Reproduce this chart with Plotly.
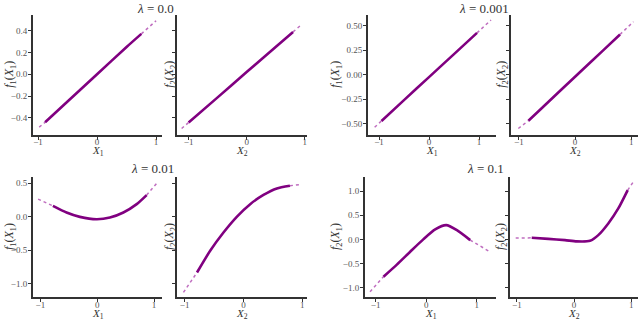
import plotly.graph_objects as go

# ---------------- data ----------------
titles = ["λ = 0.0", "λ = 0.001", "λ = 0.01", "λ = 0.1"]

x_tick_vals = [-1, 0, 1]
x_tick_text = ["−1", "0", "1"]
y_ticks_r1a = [-0.4, -0.2, 0.0, 0.2, 0.4]
y_ticks_r1b = [-0.5, -0.25, 0.0, 0.25, 0.5]
y_ticks_r2a = [-1.0, -0.5, 0.0, 0.5]
y_ticks_r2b = [-1.0, -0.5, 0.0, 0.5, 1.0]

# lambda = 0.0
p1_x = [-0.98, -0.88, -0.5, 0.0, 0.5, 0.75, 1.0]
p1_y = [-0.485, -0.44, -0.25, 0.0, 0.25, 0.37, 0.49]
p1_dense = (1, 5)
p2_x = [-1.12, -1.0, -0.5, 0.0, 0.5, 0.8, 0.95]
p2_y = [-0.497, -0.442, -0.212, 0.02, 0.25, 0.388, 0.457]
p2_dense = (1, 5)
# lambda = 0.001
p3_x = [-1.087, -0.95, -0.5, 0.0, 0.5, 0.96, 1.24]
p3_y = [-0.534, -0.47, -0.258, -0.024, 0.21, 0.426, 0.557]
p3_dense = (1, 5)
p4_x = [-1.01, -0.87, -0.83, -0.5, 0.0, 0.5, 0.8, 1.04]
p4_y = [-0.547, -0.49, -0.468, -0.29, -0.02, 0.248, 0.41, 0.54]
p4_dense = (2, 6)
# lambda = 0.01
p5_x = [-1.04, -0.78, -0.54, -0.305, -0.01, 0.224, 0.46, 0.695, 0.87, 1.05]
p5_y = [0.259, 0.159, 0.06, -0.005, -0.04, -0.015, 0.06, 0.185, 0.32, 0.50]
p5_dense = (1, 8)
p6_x = [-1.02, -0.79, -0.566, -0.34, -0.11, 0.114, 0.34, 0.568, 0.79, 0.99]
p6_y = [-1.13, -0.835, -0.51, -0.238, 0.0, 0.185, 0.323, 0.42, 0.46, 0.48]
p6_dense = (1, 8)
# lambda = 0.1
p7_x = [-1.11, -0.845, -0.58, -0.317, -0.053, 0.178, 0.396, 0.607, 0.87, 1.234]
p7_y = [-1.08, -0.77, -0.52, -0.255, 0.006, 0.206, 0.295, 0.19, -0.014, -0.24]
p7_dense = (1, 8)
p8_x = [-1.02, -0.74, -0.45, -0.157, 0.047, 0.28, 0.425, 0.6, 0.775, 0.94, 1.03]
p8_y = [0.027, 0.033, 0.012, -0.014, -0.041, -0.029, 0.089, 0.33, 0.64, 1.02, 1.175]
p8_dense = (1, 9)

# ---------------- layout geometry ----------------
W, H = 640, 319
FONT = "Liberation Serif"
DARK = "#333333"
PURPLE = "#800080"
TAIL = "rgba(170,60,170,0.75)"

def px_x(p):
    return p / W

def px_y(p):
    return 1 - p / H

# panel pixel boxes: (left, right, top, bottom)
boxes = [
    (33, 162, 15, 134.5), (177, 307, 15, 134.5), (368, 496, 15, 134.5), (511, 638, 15, 134.5),
    (33, 162, 177, 297), (177, 307, 177, 297), (365, 496, 177, 297), (510, 638, 177, 297),
]
x_ranges = [[-1.085, 1.10], [-1.2, 1.04], [-1.22, 1.34], [-1.14, 1.12],
            [-1.13, 1.14], [-1.13, 1.08], [-1.21, 1.38], [-1.12, 1.12]]
y_ranges = [[-0.552, 0.543]] * 2 + [[-0.608, 0.608]] * 2 + [[-1.2, 0.59]] * 2 + [[-1.19, 1.29]] * 2
y_ticks = [y_ticks_r1a] * 2 + [y_ticks_r1b] * 2 + [y_ticks_r2a] * 2 + [y_ticks_r2b] * 2
y_fmt = [".1f"] * 2 + [".2f"] * 2 + [".1f"] * 4

panels = [(p1_x, p1_y, p1_dense), (p2_x, p2_y, p2_dense), (p3_x, p3_y, p3_dense),
          (p4_x, p4_y, p4_dense), (p5_x, p5_y, p5_dense), (p6_x, p6_y, p6_dense),
          (p7_x, p7_y, p7_dense), (p8_x, p8_y, p8_dense)]

x_labels = ["<i>X</i><sub>1</sub>", "<i>X</i><sub>2</sub>"] * 4
y_labels = ["<i>f</i><sub>1</sub>(<i>X</i><sub>1</sub>)", "<i>f</i><sub>2</sub>(<i>X</i><sub>2</sub>)",
            "<i>f</i><sub>1</sub>(<i>X</i><sub>1</sub>)", "<i>f</i><sub>2</sub>(<i>X</i><sub>2</sub>)",
            "<i>f</i><sub>1</sub>(<i>X</i><sub>1</sub>)", "<i>f</i><sub>2</sub>(<i>X</i><sub>2</sub>)",
            "<i>f</i><sub>2</sub>(<i>X</i><sub>1</sub>)", "<i>f</i><sub>2</sub>(<i>X</i><sub>2</sub>)"]
y_label_x = [10, 170, 336, 502, 10, 170, 336, 501]

fig = go.Figure()
annotations = []
layout = {}

for i, ((xs, ys, (a, b)), box) in enumerate(zip(panels, boxes)):
    n = i + 1
    xa = "x" if n == 1 else f"x{n}"
    ya = "y" if n == 1 else f"y{n}"
    # sparse tails
    for seg in (slice(0, a + 1), slice(b, len(xs))):
        fig.add_trace(go.Scatter(x=xs[seg], y=ys[seg], mode="lines",
                                 line=dict(color=TAIL, width=1.5, dash="dot"),
                                 xaxis=xa, yaxis=ya, showlegend=False, hoverinfo="skip"))
    # dense core
    fig.add_trace(go.Scatter(x=xs[a:b + 1], y=ys[a:b + 1], mode="lines",
                             line=dict(color=PURPLE, width=2.6, shape="spline", smoothing=0.6),
                             xaxis=xa, yaxis=ya, showlegend=False, hoverinfo="skip"))
    l, r, t, btm = box
    axis_common = dict(showline=True, linecolor=DARK, linewidth=2, ticks="outside",
                       ticklen=3, tickwidth=1, tickcolor=DARK, showgrid=False,
                       zeroline=False, tickfont=dict(family=FONT, size=9, color="#555555"))
    layout["xaxis" if n == 1 else f"xaxis{n}"] = dict(
        domain=[px_x(l), px_x(r)], range=x_ranges[i], anchor=ya,
        tickvals=x_tick_vals, ticktext=x_tick_text, ticklabelstandoff=-5, **axis_common)
    layout["yaxis" if n == 1 else f"yaxis{n}"] = dict(
        domain=[px_y(btm), px_y(t)], range=y_ranges[i], anchor=xa,
        tickvals=y_ticks[i], tickformat=y_fmt[i], showticklabels=(n % 2 == 1),
        ticklabelstandoff=-1, **axis_common)
    # axis titles
    annotations.append(dict(text=x_labels[i], x=px_x((l + r) / 2), y=px_y(btm + 16.5),
                            xref="paper", yref="paper", showarrow=False,
                            xanchor="center", yanchor="middle",
                            font=dict(family=FONT, size=11, color=DARK)))
    annotations.append(dict(text=y_labels[i], x=px_x(y_label_x[i]), y=px_y((t + btm) / 2),
                            xref="paper", yref="paper", showarrow=False, textangle=-90,
                            xanchor="center", yanchor="middle",
                            font=dict(family=FONT, size=12, color=DARK)))

title_pos = [(155, 8), (484, 8), (152, 168), (485, 168)]
for txt, (tx, ty) in zip(titles, title_pos):
    annotations.append(dict(text=txt.replace("λ", "<i>λ</i>"), x=px_x(tx), y=px_y(ty),
                            xref="paper", yref="paper", showarrow=False,
                            xanchor="center", yanchor="middle",
                            font=dict(family=FONT, size=13, color=DARK)))

fig.update_layout(width=W, height=H, margin=dict(l=0, r=0, t=0, b=0),
                  paper_bgcolor="white", plot_bgcolor="white",
                  annotations=annotations, **layout)

fig.write_html("out.html", config={"displayModeBar": False},
               post_script="document.body.style.margin='0';document.body.style.overflow='hidden';")
